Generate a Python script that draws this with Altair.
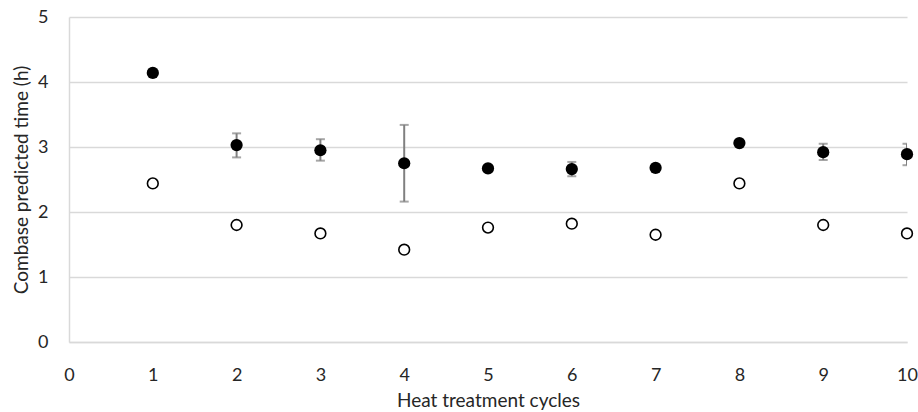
import altair as alt
import pandas as pd

cycles = [1, 2, 3, 4, 5, 6, 7, 8, 9, 10]
filled = [4.14, 3.03, 2.95, 2.75, 2.67, 2.66, 2.68, 3.06, 2.92, 2.89]
err_low = [4.14, 2.84, 2.79, 2.16, 2.67, 2.55, 2.68, 3.06, 2.80, 2.72]
err_high = [4.14, 3.21, 3.12, 3.34, 2.67, 2.77, 2.68, 3.06, 3.05, 3.05]
open_vals = [2.44, 1.80, 1.67, 1.42, 1.76, 1.82, 1.65, 2.44, 1.80, 1.67]
x_ticks = [0, 1, 2, 3, 4, 5, 6, 7, 8, 9, 10]
y_ticks = [0, 1, 2, 3, 4, 5]

df = pd.DataFrame({"cycle": cycles, "filled": filled, "lo": err_low, "hi": err_high, "open": open_vals})
df_err = df[df["hi"] > df["lo"]]

FONT = "Lato"
xs = alt.Scale(domain=[0, 10], nice=False, zero=False)
ys = alt.Scale(domain=[0, 5], nice=False)

x_enc = alt.X("cycle:Q", scale=xs, title="Heat treatment cycles",
              axis=alt.Axis(values=x_ticks, ticks=False, grid=False, labelOverlap=False,
                            domainColor="#d9d9d9", domainWidth=1.5,
                            labelPadding=24, titlePadding=7, labelFlush=False))
y_axis = alt.Axis(values=y_ticks, ticks=False, grid=True, gridColor="#d9d9d9", labelOverlap=False,
                  gridWidth=1.5, domainColor="#d9d9d9", domainWidth=1.5,
                  labelPadding=21, titlePadding=6)
YT = "Combase predicted time (h)"

err = alt.Chart(df_err).mark_errorbar(ticks=alt.TickConfig(size=9, thickness=2, color="#808080"),
                                      color="#808080", thickness=2, clip=True).encode(
    x=x_enc,
    y=alt.Y("lo:Q", scale=ys, title=YT, axis=y_axis),
    y2="hi:Q",
)

pts_filled = alt.Chart(df).mark_point(filled=True, color="black", size=150, opacity=1).encode(
    x=x_enc, y=alt.Y("filled:Q", scale=ys, title=YT, axis=y_axis))

pts_open = alt.Chart(df).mark_point(filled=False, color="black", fill="white", size=115,
                                    strokeWidth=1.6, opacity=1).encode(
    x=x_enc, y=alt.Y("open:Q", scale=ys, title=YT, axis=y_axis))

chart = alt.layer(err, pts_filled, pts_open).properties(
    width=838, height=325,
    autosize=alt.AutoSizeParams(type="none"),
    padding={"left": 69, "top": 17, "right": 11, "bottom": 70},
).configure_view(stroke=None).configure_axis(
    labelFont=FONT, titleFont=FONT, labelFontSize=18, titleFontSize=19,
    labelColor="#262626", titleColor="#262626", titleFontWeight="normal",
)

chart.save("out.html", embed_options={"renderer": "svg", "actions": False})
